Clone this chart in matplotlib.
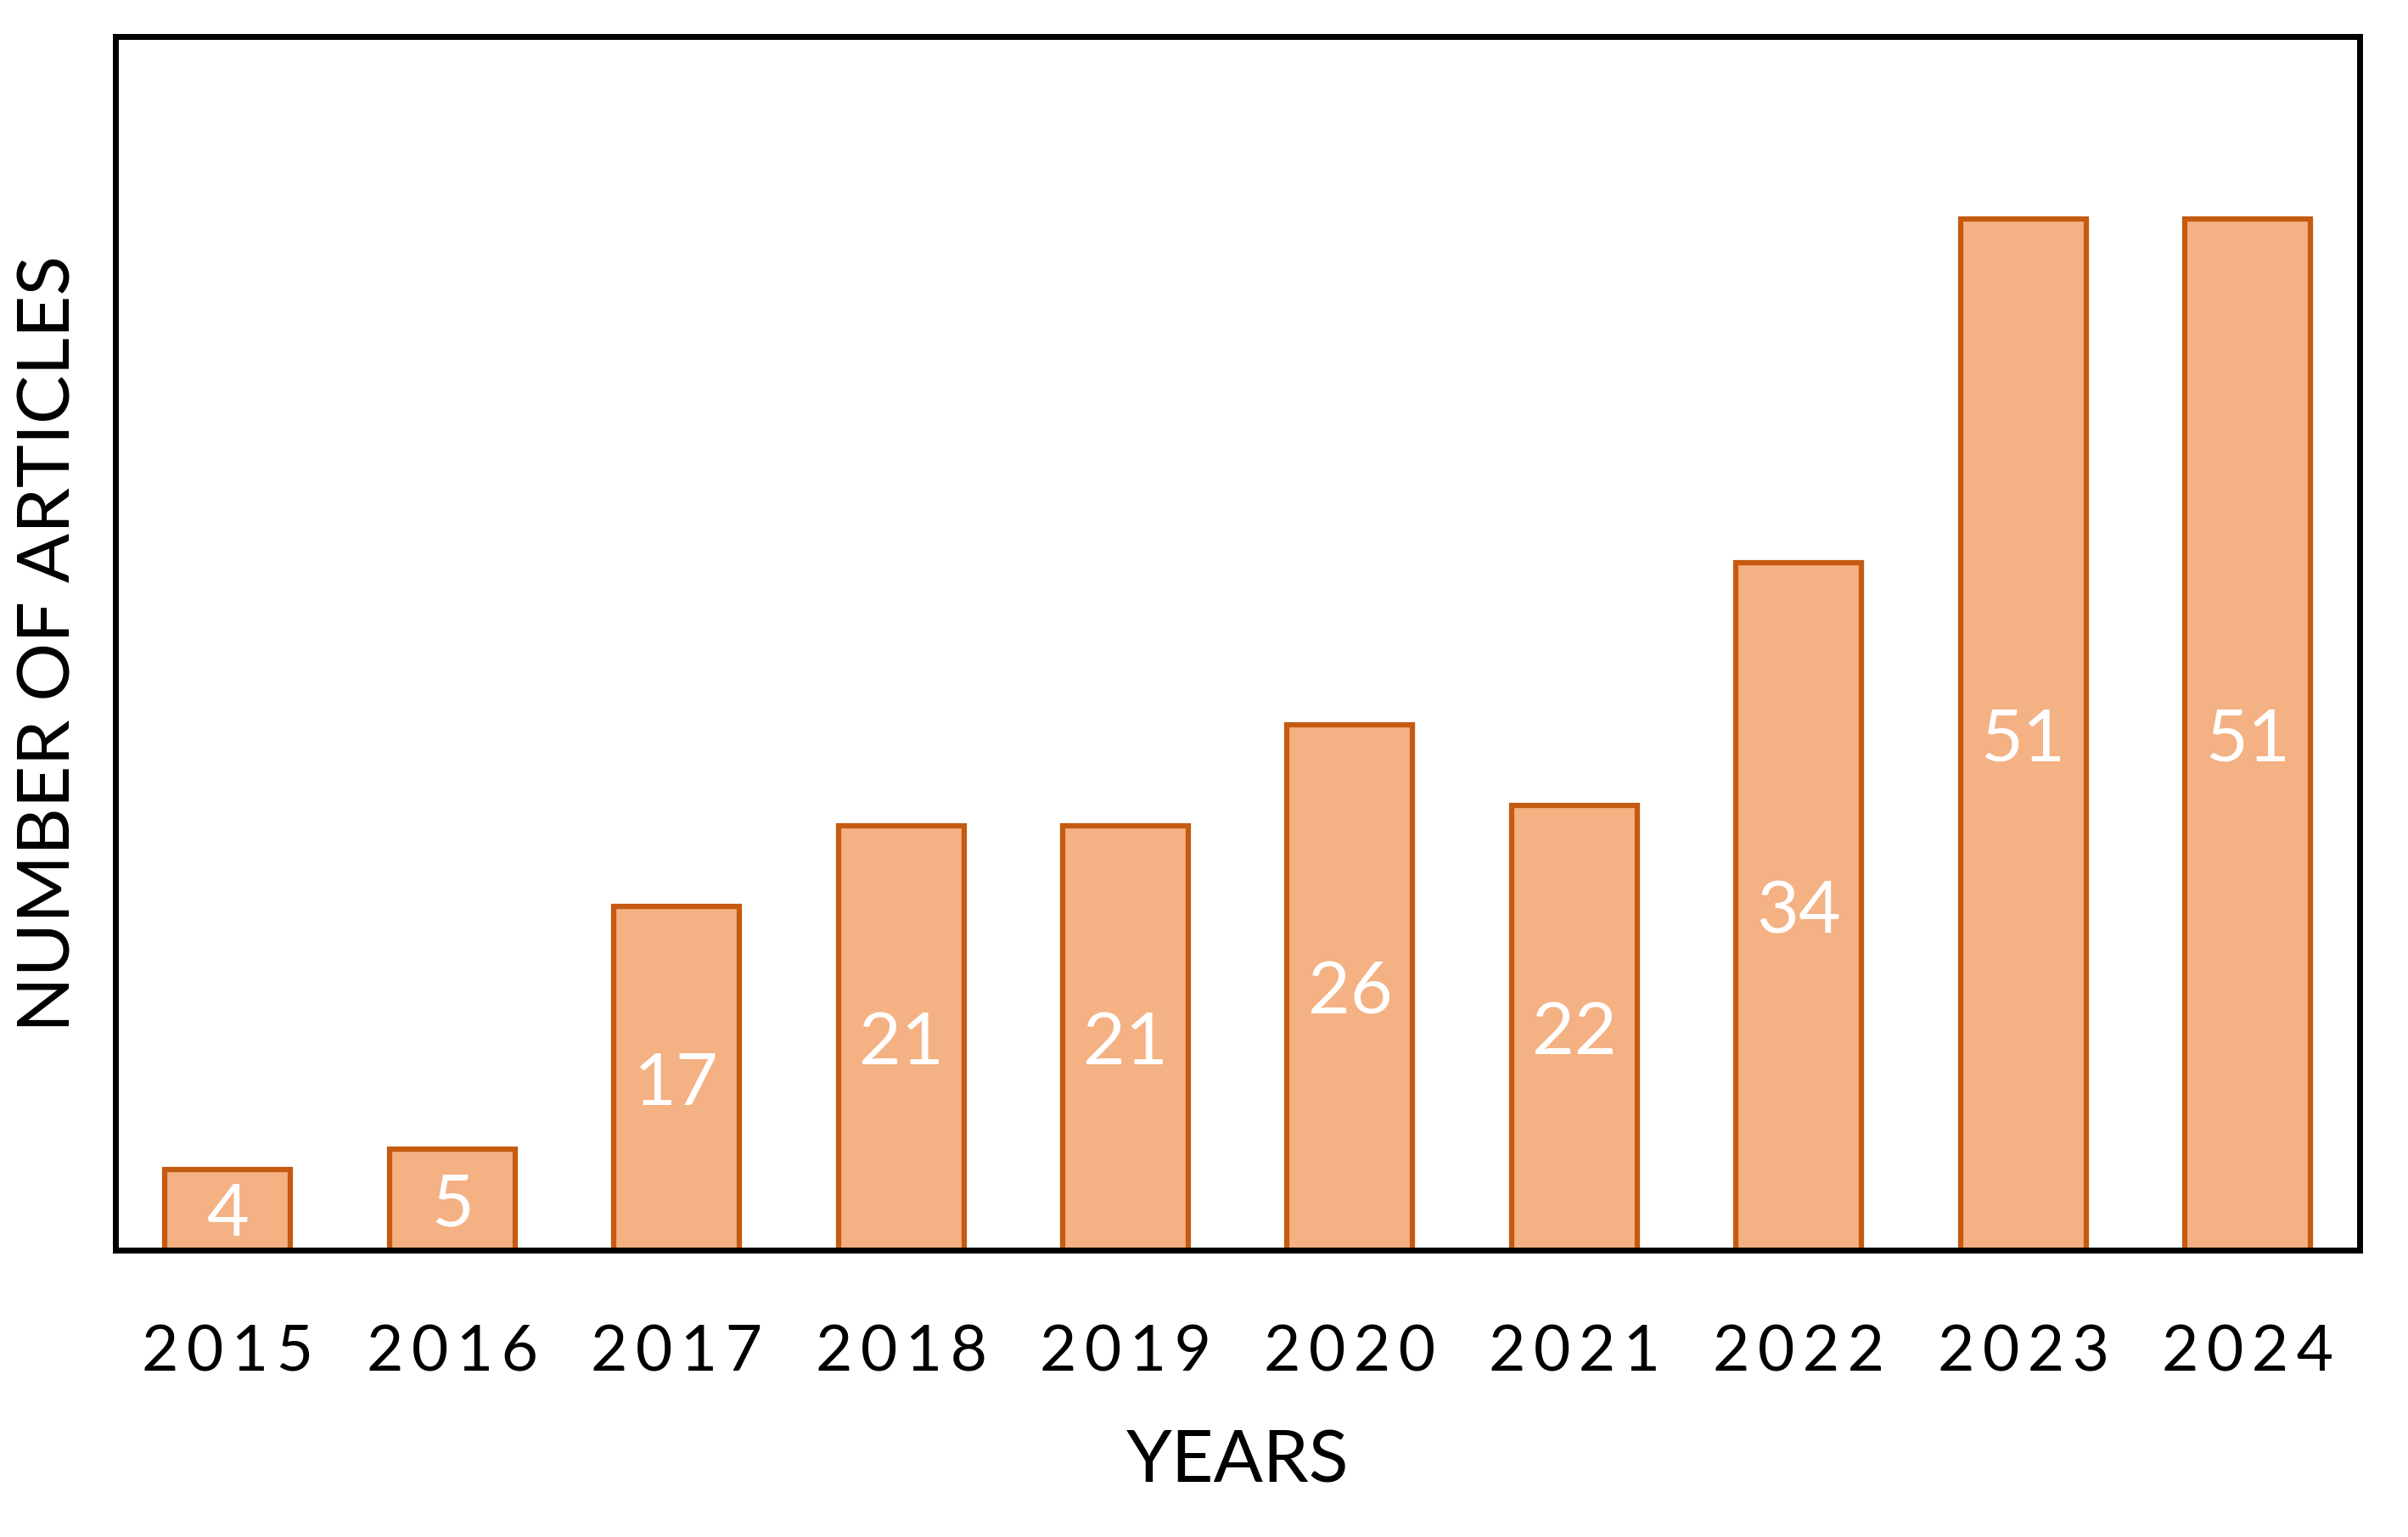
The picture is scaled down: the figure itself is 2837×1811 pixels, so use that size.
import matplotlib
matplotlib.use("Agg")
import matplotlib.pyplot as plt
from matplotlib import transforms

# data
years = ["2015", "2016", "2017", "2018", "2019", "2020", "2021", "2022", "2023", "2024"]
articles = [4, 5, 17, 21, 21, 26, 22, 34, 51, 51]

fill = "#F4B183"
edge = "#C55A11"

plt.rcParams["font.family"] = ["Lato", "DejaVu Sans"]

fig = plt.figure(figsize=(28.37, 18.11), dpi=100)
ax = fig.add_axes([0.048, 0.1866, 0.932, 0.7894])

x = range(len(years))
bars = ax.bar(x, articles, width=0.56, color=fill, edgecolor=edge, linewidth=4.5)

# value labels in the middle of each bar, nudged a little down
nudge = transforms.offset_copy(ax.transData, fig=fig, x=0, y=-7, units="dots")
for b, v in zip(bars, articles):
    ax.text(b.get_x() + b.get_width() / 2, v / 2, str(v), ha="center", va="center",
            color="white", fontsize=62, transform=nudge)

ax.set_xlim(-0.5, len(years) - 0.5)
ax.set_ylim(0, 60)
ax.set_xticks(list(x))
# the reference spreads the digits out a bit
ax.set_xticklabels(["\u2009".join(y) for y in years], fontsize=54)
ax.tick_params(axis="x", length=0, pad=62)
ax.set_yticks([])

for s in ax.spines.values():
    s.set_linewidth(5)
    s.set_color("black")

ax.set_xlabel("YEARS", fontsize=62, labelpad=40)
ax.set_ylabel("NUMBER OF ARTICLES", fontsize=62, labelpad=28)

fig.savefig("out.png", dpi=100, facecolor="white")
